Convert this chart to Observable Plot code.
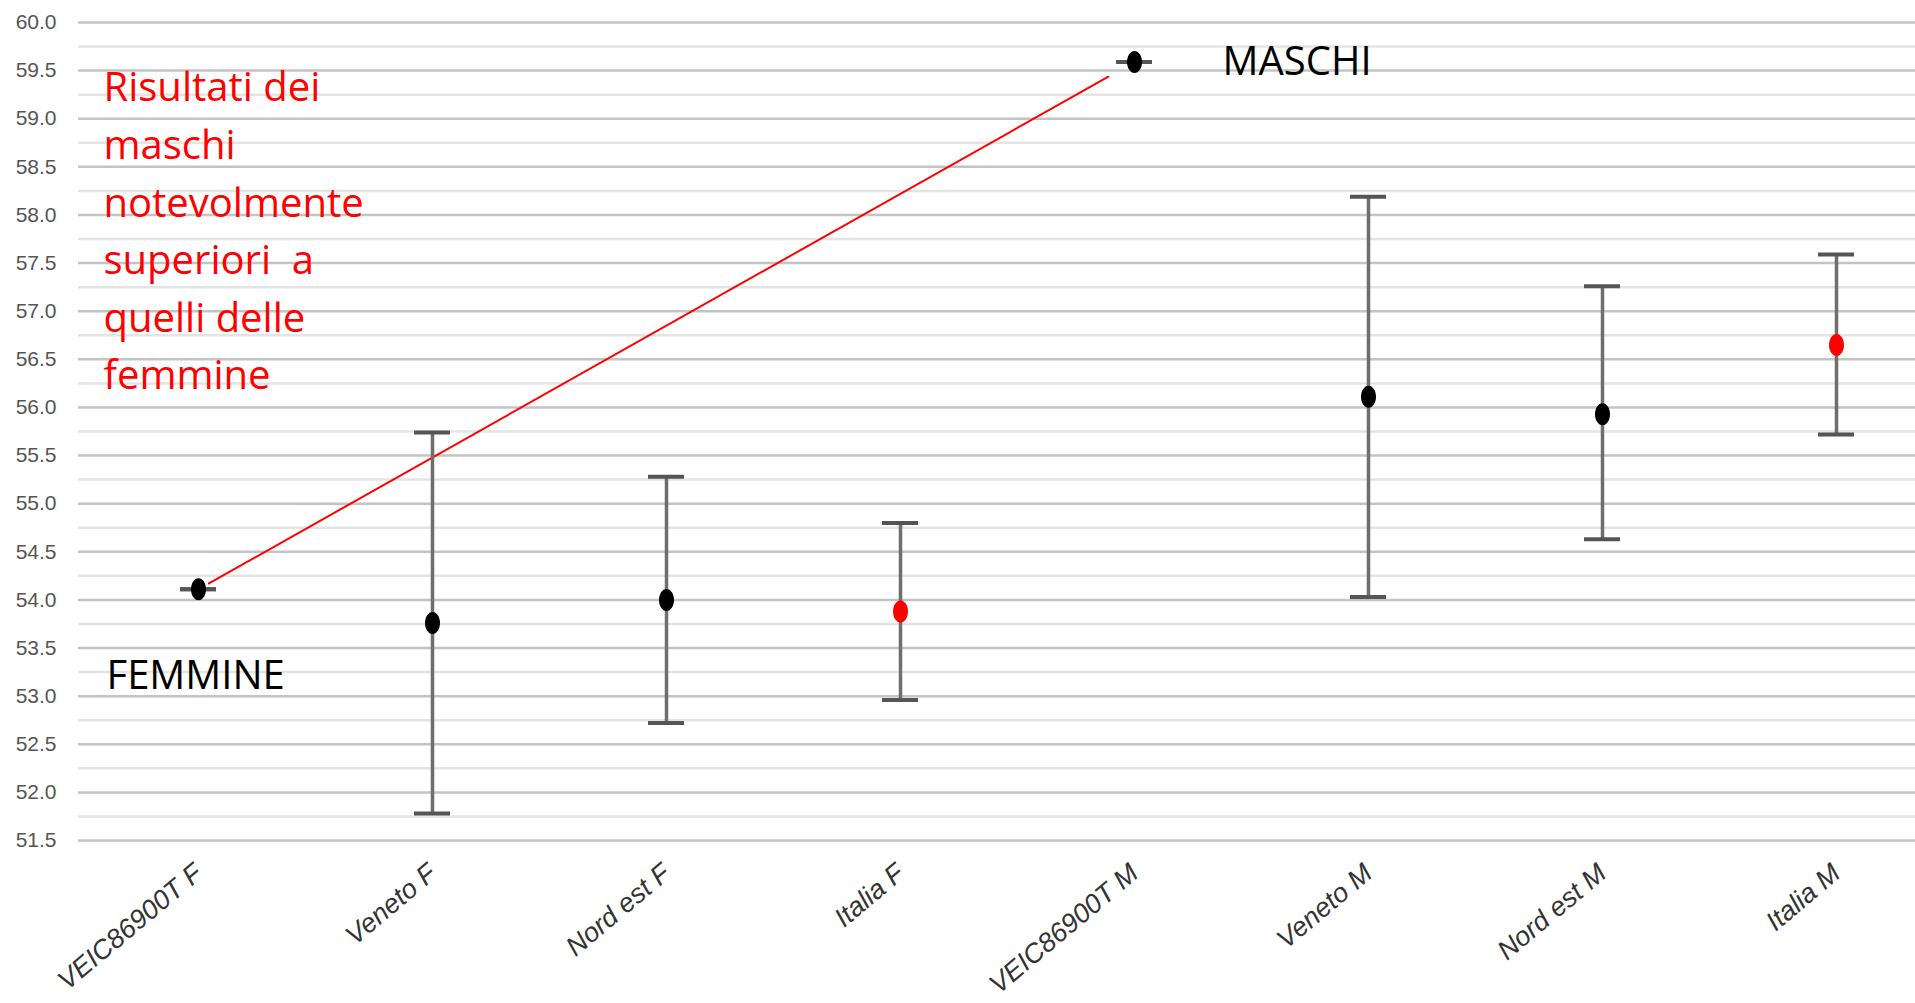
<!DOCTYPE html>
<html>
<head>
<meta charset="utf-8">
<script src="https://cdn.jsdelivr.net/npm/d3@7"></script>
<script src="https://cdn.jsdelivr.net/npm/@observablehq/plot@0.6"></script>
<style>
  html, body { margin: 0; padding: 0; background: #fff; overflow: hidden; }
  #chart svg { display: block; }
  #chart text { white-space: pre; }
</style>
</head>
<body>
<div id="chart"></div>
<script>
// ---- data ----
const categories = ["VEIC86900T F", "Veneto F", "Nord est F", "Italia F",
                    "VEIC86900T M", "Veneto M", "Nord est M", "Italia M"];
const means = [54.11, 53.76, 54.00, 53.88, 59.59, 56.11, 55.93, 56.65];
const lows  = [54.11, 51.78, 52.72, 52.96, 59.59, 54.03, 54.63, 55.72];
const highs = [54.11, 55.74, 55.28, 54.80, 59.59, 58.19, 57.26, 57.59];
const highlight = [false, false, false, true, false, false, false, true];

const yTicks = [51.5, 52.0, 52.5, 53.0, 53.5, 54.0, 54.5, 55.0, 55.5, 56.0,
                56.5, 57.0, 57.5, 58.0, 58.5, 59.0, 59.5, 60.0];
const yMinor = [51.75, 52.25, 52.75, 53.25, 53.75, 54.25, 54.75, 55.25, 55.75,
                56.25, 56.75, 57.25, 57.75, 58.25, 58.75, 59.25, 59.75];

const noteText = "Risultati dei\nmaschi\nnotevolmente\nsuperiori  a\nquelli delle\nfemmine";
const femLabel = "FEMMINE";
const masLabel = "MASCHI";

// ---- table built from the arrays ----
const rows = categories.map((c, i) => ({
  cat: c, mean: means[i], low: lows[i], high: highs[i],
  color: highlight[i] ? "#ff0000" : "#000000"
}));
const femRow = rows[0];
const masRow = rows[4];

// ellipse symbol (taller than wide, as in the reference)
const ellipse = {
  draw(ctx) {
    const rx = 7.5, ry = 11, kx = rx * 0.5523, ky = ry * 0.5523;
    ctx.moveTo(rx, 0);
    ctx.bezierCurveTo(rx, ky, kx, ry, 0, ry);
    ctx.bezierCurveTo(-kx, ry, -rx, ky, -rx, 0);
    ctx.bezierCurveTo(-rx, -ky, -kx, -ry, 0, -ry);
    ctx.bezierCurveTo(kx, -ry, rx, -ky, rx, 0);
    ctx.closePath();
  }
};

const capInset = 99;

const chart = Plot.plot({
  width: 1915,
  height: 1003,
  marginLeft: 78,
  marginRight: 0,
  marginTop: 22,
  marginBottom: 163,
  style: { background: "#fff", fontFamily: "'Liberation Sans', Arial, sans-serif" },
  x: { type: "band", domain: categories, range: [79, 1955], padding: 0 },
  y: { domain: [51.5, 60] },
  marks: [
    Plot.ruleY(yMinor, { stroke: "#e4e4e4", strokeWidth: 2.5 }),
    Plot.ruleY(yTicks, { stroke: "#c4c4c4", strokeWidth: 2.5 }),
    Plot.axisY({
      ticks: yTicks, tickFormat: d => d.toFixed(1), tickSize: 0, tickPadding: 22,
      fontSize: 21, color: "#555", label: null
    }),
    Plot.axisX({
      tickSize: 0, tickPadding: 29, tickRotate: -40, fontSize: 27,
      fontStyle: "italic", color: "#333", label: null
    }),
    // annotation line from the female point to the male point
    Plot.arrow([femRow], {
      x1: "cat", y1: "mean", x2: () => masRow.cat, y2: () => masRow.mean,
      stroke: "#ff0000", strokeWidth: 2, headLength: 0, insetStart: 12, insetEnd: 30
    }),
    // error bars
    Plot.ruleX(rows, { x: "cat", y1: "low", y2: "high", stroke: "#6e6e6e", strokeWidth: 3.5 }),
    Plot.tickY(rows, { x: "cat", y: "low", stroke: "#555", strokeWidth: 4, insetLeft: capInset, insetRight: capInset }),
    Plot.tickY(rows, { x: "cat", y: "high", stroke: "#555", strokeWidth: 4, insetLeft: capInset, insetRight: capInset }),
    Plot.dot(rows, { x: "cat", y: "mean", r: 10, symbol: ellipse, fill: "color", stroke: "none" }),
    // texts
    Plot.text([noteText], {
      frameAnchor: "top-left", text: d => d, dx: 25, dy: 38,
      textAnchor: "start", lineAnchor: "top", lineHeight: 1.44,
      fontSize: 40, fill: "#ff0000", fontFamily: "'Open Sans', sans-serif"
    }),
    Plot.text([femRow], {
      x: "cat", y: "mean", text: () => femLabel, dx: -92, dy: 100,
      textAnchor: "start", lineAnchor: "bottom",
      fontSize: 40, fill: "#000", fontFamily: "'Open Sans', sans-serif"
    }),
    Plot.text([masRow], {
      x: "cat", y: "mean", text: () => masLabel, dx: 88, dy: 13,
      textAnchor: "start", lineAnchor: "bottom",
      fontSize: 40, fill: "#000", fontFamily: "'Open Sans', sans-serif"
    })
  ]
});
document.getElementById("chart").appendChild(chart);
</script>
</body>
</html>
